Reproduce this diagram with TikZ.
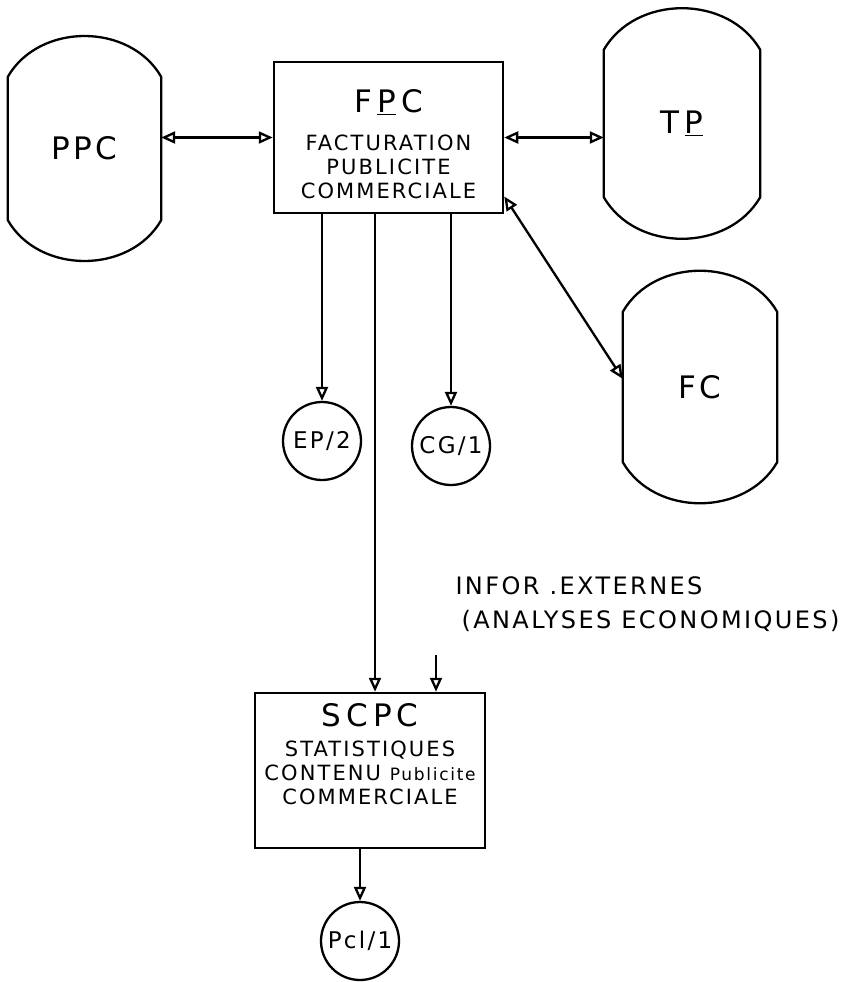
\documentclass[tikz,border=0pt]{standalone}
\usepackage{fontspec}
\setmainfont{DejaVu Sans}
\newfontfamily\hand[LetterSpace=10]{DejaVu Sans}
\usepackage{tikz}
\usetikzlibrary{arrows.meta,positioning,calc}
\newcommand{\bigtxt}{\fontsize{31}{33}\selectfont}
\tikzset{
  proc/.style={draw,line width=2.5pt,minimum width=229pt,minimum height=151pt,align=center,inner sep=0pt,font=\hand\fontsize{21}{24}\selectfont},
  disk/.style={minimum width=155pt,minimum height=147pt,inner sep=0pt,font=\hand\bigtxt},
  doc/.style={circle,draw,line width=2.3pt,minimum size=78pt,inner sep=0pt,font=\hand\fontsize{23}{25}\selectfont},
  flow/.style={line width=2.3pt,->}
}

\begin{document}
\begin{tikzpicture}[x=1pt,y=-1pt,>={Triangle[open,length=14pt,width=12pt]}]
\useasboundingbox (0,0) rectangle (867,982);
% fichiers
\node[disk,minimum width=153pt,minimum height=143pt] (ppc) at (84.5,148.5) {PPC};
\node[disk,minimum width=156pt] (tp) at (682,123.5) {T\,\underline{P}};
\node[disk,minimum width=154pt,minimum height=150pt] (fc) at (700,387) {FC};
\foreach \d in {ppc,tp,fc}
  \draw[line width=2.3pt] (\d.north west) to[out=60,in=120,looseness=1.05] (\d.north east) -- (\d.south east)
    to[out=-120,in=-60,looseness=1.05] (\d.south west) -- cycle;
% traitements
\node[proc] (fpc) at (388.5,137.5) {{\bigtxt\rule{0pt}{36pt}F\,\underline{P}\,C}\\[14pt]FACTURATION\\PUBLICITE\\COMMERCIALE};
\node[proc,minimum width=230pt,minimum height=155pt] (scpc) at (370,770.5) {{\bigtxt S\,C\,P\,C}\\[6pt]STATISTIQUES\\CONTENU {\fontsize{17}{24}\selectfont Publicite}\\COMMERCIALE\\[10pt]\mbox{}};
% etats
\node[doc] (ep) at (322,441) {EP/2};
\node[doc] (cg) at (451,446) {CG/1};
\node[doc] (pcl) at (360,941) {Pcl/1};
\node[anchor=north west,align=left,font=\hand\fontsize{24}{34}\selectfont] (ext) at (452,573) {INFOR .EXTERNES\\\hspace{6pt}(ANALYSES ECONOMIQUES)};
\coordinate (extin) at (436,655);

\draw[flow,<->] (fpc.west) -- (fpc.west -| ppc.east);
\draw[flow,<->] (fpc.east) -- (fpc.east -| tp.west);
\draw[flow,<->] (fpc.-27) -- (fc.174);
\draw[flow] (fpc.south -| ep.north) -- (ep.north);
\draw[flow] (fpc.south -| cg.north) -- (cg.north);
\draw[flow] ($(fpc.south)+(-13.5,0)$) coordinate (down) -- (down |- scpc.north);
\draw[flow] (extin) -- (extin |- scpc.north);
\draw[flow] (scpc.south -| pcl.north) -- (pcl.north);
\end{tikzpicture}
\end{document}
